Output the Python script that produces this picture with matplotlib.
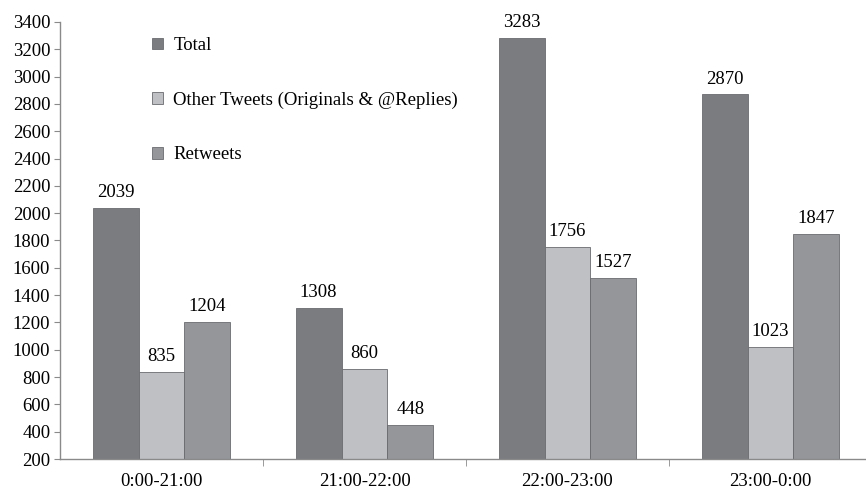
"""Tweet counts per time window, grouped bars."""

import numpy as np
import matplotlib.pyplot as plt

categories = ["0:00-21:00", "21:00-22:00", "22:00-23:00", "23:00-0:00"]
total = [2039, 1308, 3283, 2870]
other_tweets = [835, 860, 1756, 1023]
retweets = [1204, 448, 1527, 1847]

series_names = ["Total", "Other Tweets (Originals & @Replies)", "Retweets"]
colors = ["#7b7c80", "#bfc0c4", "#95969a"]

plt.rcParams["font.family"] = ["Liberation Serif", "DejaVu Serif"]
fs = 13.5

fig = plt.figure(figsize=(8.66, 4.91), dpi=100)
ax = fig.add_axes([60 / 866, 32 / 491, 812 / 866, 437 / 491])

x = np.arange(len(categories))
w = 0.226
for i, (vals, name, c) in enumerate(zip([total, other_tweets, retweets], series_names, colors)):
    pos = x + (i - 1) * w
    ax.bar(pos, vals, width=w, color=c, edgecolor="#6a6b6f", linewidth=0.6, label=name)
    for px, v in zip(pos, vals):
        ax.text(px, v + 50, str(v), ha="center", va="bottom", fontsize=fs)

ax.set_ylim(200, 3400)
ax.set_yticks(range(200, 3401, 200))
ax.set_xlim(-0.5, len(categories) - 0.5)
ax.set_xticks(x)
ax.set_xticklabels(categories)
ax.set_xticks(np.arange(0.5, len(categories) - 0.5, 1), minor=True)
ax.tick_params(axis="x", which="major", length=0, pad=10, labelsize=fs)
ax.tick_params(axis="x", which="minor", length=5, color="#8a8a8a")
ax.tick_params(axis="y", length=4, color="#8a8a8a", labelsize=fs, pad=3)

for s in ["top", "right"]:
    ax.spines[s].set_visible(False)
for s in ["left", "bottom"]:
    ax.spines[s].set_color("#8a8a8a")
    ax.spines[s].set_linewidth(1.0)

ax.legend(loc="upper left", bbox_to_anchor=(0.092, 1.004), frameon=False,
          fontsize=fs, handlelength=0.6, handleheight=0.6, labelspacing=2.0,
          handletextpad=0.55)

fig.savefig("out.png", dpi=100)
